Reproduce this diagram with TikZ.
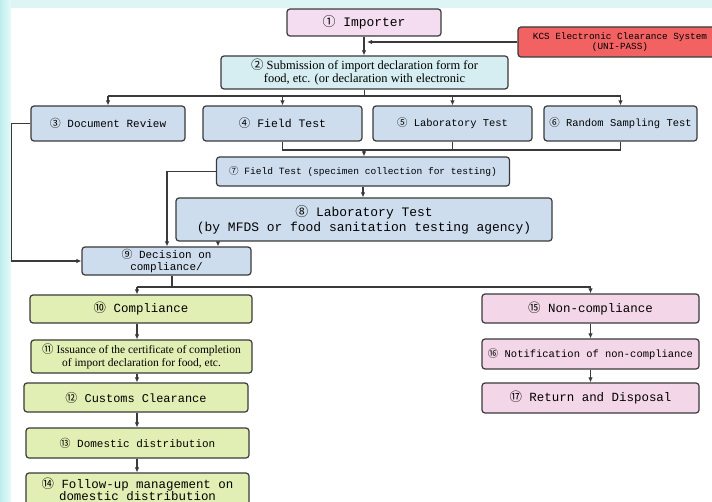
\documentclass[tikz,border=0pt]{standalone}
\usepackage{fontspec}
\setmainfont{Liberation Serif}
\setmonofont{Liberation Mono}
\newfontfamily\circfont{Noto Sans CJK SC}
\usetikzlibrary{arrows.meta}

\newcommand{\cn}[1]{{\circfont #1}}
\newcommand{\fsz}[2]{\fontsize{#1}{#2}\selectfont}

\definecolor{impfill}{HTML}{F4DDF0}
\definecolor{kcsfill}{HTML}{F26262}
\definecolor{subfill}{HTML}{D6EEF1}
\definecolor{bluefill}{HTML}{CEDDEE}
\definecolor{greenfill}{HTML}{E2EFB4}
\definecolor{pinkfill}{HTML}{F3D6E7}
\definecolor{edge}{HTML}{3A3A3A}
\definecolor{bgcyan}{HTML}{BDEEEE}
\definecolor{topcyan}{HTML}{DDF5F5}

\begin{document}
\begin{tikzpicture}[x=1bp,y=-1bp,
  box/.style={draw=edge, line width=1.2bp, rounded corners=3bp, align=center, inner sep=1bp, font=\ttfamily},
  bluebox/.style={box, fill=bluefill},
  greenbox/.style={box, fill=greenfill, minimum width=222bp},
  pinkbox/.style={box, fill=pinkfill, minimum width=217bp, minimum height=30bp},
  wire/.style={draw=edge, line width=1.3bp},
  arr/.style={wire, -{Latex[length=5bp,width=4.5bp]}}]

% background
\useasboundingbox (0,0) rectangle (712,502);
\fill[white] (0,0) rectangle (712,502);
\fill[topcyan] (0,0) rectangle (712,8);
\shade[left color=bgcyan, right color=bgcyan!35] (0,0) rectangle (11,502);

% top
\node[box, fill=impfill, minimum width=154bp, minimum height=27bp, font=\ttfamily\fsz{13}{13}] (imp) at (364,22.5) {\cn{①} Importer};
\node[box, fill=kcsfill, minimum width=204bp, minimum height=30bp, font=\ttfamily\fsz{9.4}{10}] (kcs) at (620,42) {KCS Electronic Clearance System\\(UNI-PASS)};
\node[box, fill=subfill, minimum width=287bp, minimum height=33bp, font=\rmfamily\fsz{12.5}{13}] (sub) at (364.5,72.5) {\cn{②} Submission of import declaration form for\\food, etc. (or declaration with electronic};

% four checks
\node[bluebox, minimum width=154bp, minimum height=35bp, font=\ttfamily\fsz{11}{11}] (doc) at (108,123.5) {\cn{③} Document Review};
\node[bluebox, minimum width=159bp, minimum height=35bp, font=\ttfamily\fsz{11.5}{11.5}] (fld) at (282.5,123.5) {\cn{④} Field Test};
\node[bluebox, minimum width=159bp, minimum height=35bp, font=\ttfamily\fsz{10.5}{10.5}] (lab) at (452.5,123.5) {\cn{⑤} Laboratory Test};
\node[bluebox, minimum width=153bp, minimum height=35bp, font=\ttfamily\fsz{10.5}{10.5}] (rnd) at (620.5,123.5) {\cn{⑥} Random Sampling Test};

\node[bluebox, minimum width=293bp, minimum height=29bp, font=\ttfamily\fsz{9.6}{9.6}] (spc) at (363,171.5) {\cn{⑦} Field Test (specimen collection for testing)};
\node[bluebox, minimum width=376bp, minimum height=43bp, font=\ttfamily\fsz{13}{15}] (mfd) at (364,219.5) {\cn{⑧} Laboratory Test\\(by MFDS or food sanitation testing agency)};
\node[bluebox, minimum width=169bp, minimum height=28bp, font=\ttfamily\fsz{11}{12}] (dec) at (166.5,261) {\cn{⑨} Decision on\\compliance/};

% compliance side
\node[greenbox, minimum height=28bp, font=\ttfamily\fsz{12.5}{12.5}] (cmp) at (141,309) {\cn{⑩} Compliance};
\node[greenbox, minimum width=221bp, minimum height=33bp, font=\rmfamily\fsz{11.5}{12.5}] (cert) at (141.5,356.5) {\cn{⑪} Issuance of the certificate of completion\\of import declaration for food, etc.};
\node[greenbox, minimum width=224bp, minimum height=29bp, font=\ttfamily\fsz{12}{12}] (cus) at (136,397.5) {\cn{⑫} Customs Clearance};
\node[greenbox, minimum width=223bp, minimum height=30bp, font=\ttfamily\fsz{11}{11}] (dom) at (137.5,443) {\cn{⑬} Domestic distribution};
\node[greenbox, minimum width=223bp, minimum height=32bp, font=\ttfamily\fsz{12.5}{12}] (fol) at (137.5,489) {\cn{⑭} Follow-up management on\\domestic distribution};

% non-compliance side
\node[pinkbox, minimum height=29bp, font=\ttfamily\fsz{12.5}{12.5}] (ncp) at (590.5,308.5) {\cn{⑮} Non-compliance};
\node[pinkbox, font=\ttfamily\fsz{10.5}{10.5}] (ntf) at (590.5,354) {\cn{⑯} Notification of non-compliance};
\node[pinkbox, font=\ttfamily\fsz{12.5}{12.5}] (ret) at (590.5,398) {\cn{⑰} Return and Disposal};

% connectors
\coordinate (br) at (364,96);
\coordinate (jn) at (364,150);
\coordinate (sp) at (172,287);
\coordinate (lc) at (137,0);

\draw[arr] (imp.south) -- (imp.south |- sub.north);
\draw[arr] (kcs.west) -- ([xshift=3bp]imp.south |- kcs.west);
\draw[wire] (sub.south) -- (sub.south |- br);
\draw[wire] (doc.north |- br) -- (rnd.north |- br);
\foreach \n in {doc,fld,lab,rnd}
  \draw[arr] (\n.north |- br) -- (\n.north);
\draw[wire] (fld.south) -- (fld.south |- jn) -- (rnd.south |- jn) -- (rnd.south);
\draw[wire] (lab.south) -- (lab.south |- jn);
\draw[arr] (jn) -- (jn |- spc.north);
\draw[arr] (spc.south) -- (spc.south |- mfd.north);
\draw[arr] (spc.west) -| (167,0 |- dec.north);
\draw[arr] ([xshift=-146bp]mfd.south) -- ([xshift=-146bp]mfd.south |- dec.north);
\draw[arr] (doc.west) -- ++(-19,0) |- (dec.west);
\draw[wire] (sp |- dec.south) -- (sp);
\draw[wire] (lc |- sp) -- (ncp.north |- sp);
\draw[arr] (lc |- sp) -- (lc |- cmp.north);
\draw[arr] (sp -| ncp.north) -- (ncp.north);
\foreach \a/\b in {cmp/cert,cert/cus,cus/dom,dom/fol}
  \draw[arr] (lc |- \a.south) -- (lc |- \b.north);
\foreach \a/\b in {ncp/ntf,ntf/ret}
  \draw[arr] (\a) -- (\b);
\end{tikzpicture}
\end{document}
